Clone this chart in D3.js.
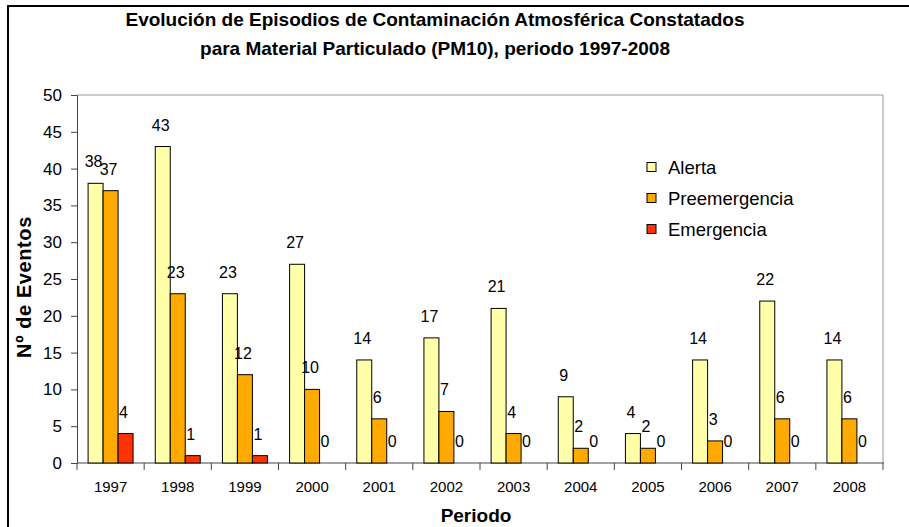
<!DOCTYPE html>
<html>
<head>
<meta charset="utf-8">
<script src="https://cdn.jsdelivr.net/npm/d3@7"></script>
<style>
	body { margin: 0; background: #fff; }
	text { font-family: 'Liberation Sans', Arial, sans-serif; fill: #000; }
</style>
</head>
<body>
<div id="chart"></div>
<script>
// data
const years = ['1997', '1998', '1999', '2000', '2001', '2002', '2003', '2004', '2005', '2006', '2007', '2008']
const seriesNames = ['Alerta', 'Preemergencia', 'Emergencia']
const alerta = [38, 43, 23, 27, 14, 17, 21, 9, 4, 14, 22, 14]
const preemergencia = [37, 23, 12, 10, 6, 7, 4, 2, 2, 3, 6, 6]
const emergencia = [4, 1, 1, 0, 0, 0, 0, 0, 0, 0, 0, 0]
const yTicks = [0, 5, 10, 15, 20, 25, 30, 35, 40, 45, 50]
const colors = ['#FFFFAA', '#FFAA00', '#FF3300']

const width = 909
const height = 527
const plot = { left: 77, right: 883, top: 95, bottom: 463 }

const svg = d3.select('#chart').append('svg')
	.attr('width', width)
	.attr('height', height)

// outer frame (goes past the right and bottom edge)
svg.append('rect')
	.attr('x', 8).attr('y', 6)
	.attr('width', 920).attr('height', 540)
	.attr('fill', 'none')
	.attr('stroke', '#000')
	.attr('stroke-width', 2)

// title
const title = svg.append('text')
	.attr('text-anchor', 'middle')
	.style('font-weight', 'bold')
	.style('font-size', '19px')
title.append('tspan').attr('x', 435).attr('y', 26)
	.text('Evolución de Episodios de Contaminación Atmosférica Constatados')
title.append('tspan').attr('x', 435).attr('y', 55)
	.text('para Material Particulado (PM10), periodo 1997-2008')

const x0 = d3.scaleBand()
	.domain(years)
	.range([plot.left, plot.right])

const x1 = d3.scaleBand()
	.domain(seriesNames)
	.range([0, x0.bandwidth()])
	.paddingOuter(0.74)

const y = d3.scaleLinear()
	.domain([0, 50])
	.range([plot.bottom, plot.top])

// plot border, top and right in gray
svg.append('path')
	.attr('d', `M${plot.left},${plot.top}H${plot.right}V${plot.bottom}`)
	.attr('fill', 'none')
	.attr('stroke', '#999')
	.attr('stroke-width', 1)

// y axis
const yAxis = svg.append('g')
	.attr('transform', `translate(${plot.left},0)`)
	.call(d3.axisLeft(y).tickValues(yTicks).tickSize(6).tickPadding(9))
yAxis.select('.domain').attr('stroke', '#444')
yAxis.selectAll('.tick line').attr('stroke', '#444')
yAxis.selectAll('.tick text')
	.style('font-family', "'Liberation Sans', Arial, sans-serif")
	.style('font-size', '17px')
	.attr('fill', '#000')

// x axis with ticks between the categories
const xAxis = svg.append('g')
	.attr('transform', `translate(0,${plot.bottom})`)
xAxis.append('line')
	.attr('x1', plot.left).attr('x2', plot.right + 1)
	.attr('stroke', '#444')
xAxis.selectAll('.sep')
	.data(years.concat(['end']))
	.enter()
	.append('line')
	.attr('class', 'sep')
	.attr('x1', (d, i) => i < years.length ? x0(d) : plot.right)
	.attr('x2', (d, i) => i < years.length ? x0(d) : plot.right)
	.attr('y1', 0).attr('y2', 7)
	.attr('stroke', '#444')
xAxis.selectAll('.lab')
	.data(years)
	.enter()
	.append('text')
	.attr('class', 'lab')
	.attr('x', d => x0(d) + x0.bandwidth() / 2)
	.attr('y', 29)
	.attr('text-anchor', 'middle')
	.style('font-size', '15px')
	.text(d => d)

// axis titles
svg.append('text')
	.attr('x', (plot.left + plot.right) / 2 - 4)
	.attr('y', 522)
	.attr('text-anchor', 'middle')
	.style('font-weight', 'bold')
	.style('font-size', '19px')
	.text('Periodo')

svg.append('text')
	.attr('transform', 'translate(31,287) rotate(-90)')
	.attr('text-anchor', 'middle')
	.style('font-weight', 'bold')
	.style('font-size', '20px')
	.style('letter-spacing', '0.6px')
	.text('Nº de Eventos')

// bars
const rows = years.map((yr, i) => ({
	year: yr,
	values: [alerta[i], preemergencia[i], emergencia[i]]
}))

const groups = svg.selectAll('.grp')
	.data(rows)
	.enter()
	.append('g')
	.attr('class', 'grp')
	.attr('transform', d => `translate(${x0(d.year)},0)`)

groups.selectAll('rect')
	.data(d => d.values.map((v, j) => ({ name: seriesNames[j], value: v, j: j })))
	.enter()
	.append('rect')
	.attr('x', d => x1(d.name))
	.attr('y', d => y(d.value))
	.attr('width', x1.bandwidth())
	.attr('height', d => plot.bottom - y(d.value))
	.attr('fill', d => colors[d.j])
	.attr('stroke', d => d.value > 0 ? '#000' : 'none')
	.attr('stroke-width', 1)

// value labels
groups.selectAll('.val')
	.data(d => d.values.map((v, j) => ({ name: seriesNames[j], value: v })))
	.enter()
	.append('text')
	.attr('class', 'val')
	.attr('x', d => x1(d.name) + x1.bandwidth() / 2 - 2)
	.attr('y', d => y(d.value) - 16)
	.attr('text-anchor', 'middle')
	.style('font-size', '16px')
	.text(d => d.value)

// legend
const legend = svg.append('g')
	.attr('transform', 'translate(647,0)')
seriesNames.forEach((name, i) => {
	const ly = 167 + i * 31
	legend.append('rect')
		.attr('x', 0).attr('y', ly - 4.5)
		.attr('width', 9).attr('height', 9)
		.attr('fill', colors[i])
		.attr('stroke', '#000')
	legend.append('text')
		.attr('x', 21).attr('y', ly + 6.5)
		.style('font-size', '18.5px')
		.text(name)
})
</script>
</body>
</html>
